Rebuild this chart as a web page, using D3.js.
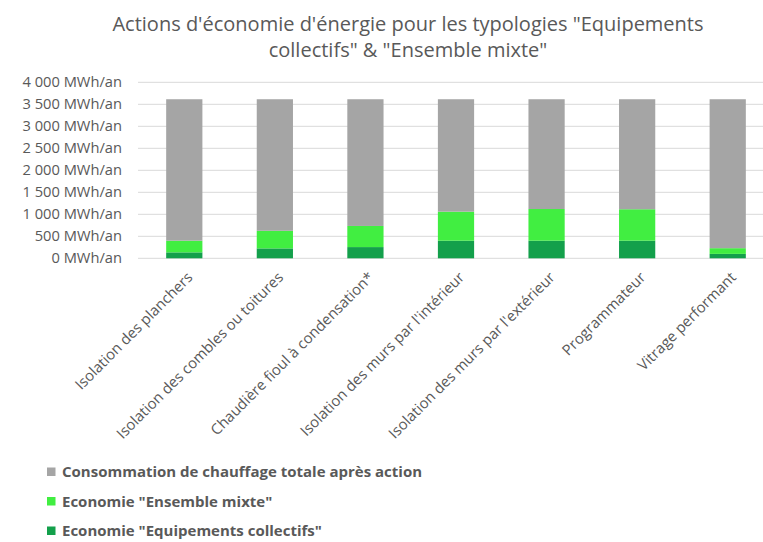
<!DOCTYPE html>
<html>
<head>
<meta charset="utf-8">
<script src="https://cdn.jsdelivr.net/npm/d3@7"></script>
<style>
  body { margin: 0; background: #ffffff; }
  text { font-family: "Open Sans", sans-serif; fill: #595959; }
</style>
</head>
<body>
<svg id="chart"></svg>
<script>
const width = 763, height = 542

const categories = [
    "Isolation des planchers",
    "Isolation des combles ou toitures",
    "Chaudière fioul à condensation*",
    "Isolation des murs par l'intérieur",
    "Isolation des murs par l'extérieur",
    "Programmateur",
    "Vitrage performant"
]
const ecoEquipements = [135, 225, 255, 400, 400, 400, 100]
const ecoMixte = [265, 400, 480, 660, 720, 715, 130]
const consoApres = [3215, 2990, 2880, 2555, 2495, 2500, 3385]
const seriesNames = [
    "Economie \"Equipements collectifs\"",
    "Economie \"Ensemble mixte\"",
    "Consommation de chauffage totale après action"
]
const yTicks = [0, 500, 1000, 1500, 2000, 2500, 3000, 3500, 4000]
const colors = ["#13a04b", "#41ee41", "#a5a5a5"]

const svg = d3.select("svg#chart")
    .attr("width", width)
    .attr("height", height)
    .attr("viewBox", [0, 0, width, height])
    .style("background", "#ffffff")

// title
const title = svg.append("text")
    .attr("text-anchor", "middle")
    .style("font-size", "20px")
title.append("tspan").attr("x", 408).attr("y", 31)
    .text("Actions d'économie d'énergie pour les typologies \"Equipements")
title.append("tspan").attr("x", 408).attr("y", 57)
    .text("collectifs\" & \"Ensemble mixte\"")

const x = d3.scaleBand()
    .domain(categories)
    .range([139, 773])
    .paddingInner(0.6)
    .paddingOuter(0.3)

const y = d3.scaleLinear()
    .domain([0, 4000])
    .range([258.3, 82.3])

const fmt = v => d3.format(",")(v).replace(/,/g, " ") + " MWh/an"

// gridlines
svg.append("g")
    .selectAll("line")
    .data(yTicks)
    .enter()
    .append("line")
    .attr("x1", 138)
    .attr("x2", width)
    .attr("y1", d => y(d))
    .attr("y2", d => y(d))
    .attr("stroke", "#d9d9d9")
    .attr("stroke-width", 1)

// y labels
svg.append("g")
    .selectAll("text")
    .data(yTicks)
    .enter()
    .append("text")
    .attr("x", 122)
    .attr("y", d => y(d))
    .attr("dy", "0.35em")
    .attr("text-anchor", "end")
    .style("font-size", "14.7px")
    .text(fmt)

// stacked bars
const table = categories.map((c, i) => ({
    cat: c,
    s0: ecoEquipements[i],
    s1: ecoMixte[i],
    s2: consoApres[i]
}))
const stacked = d3.stack().keys(["s0", "s1", "s2"])(table)

svg.append("g")
    .selectAll("g")
    .data(stacked)
    .enter()
    .append("g")
    .attr("fill", (d, i) => colors[i])
    .selectAll("rect")
    .data(d => d)
    .enter()
    .append("rect")
    .attr("x", d => x(d.data.cat))
    .attr("width", x.bandwidth())
    .attr("y", d => y(d[1]))
    .attr("height", d => y(d[0]) - y(d[1]))

// category labels
svg.append("g")
    .selectAll("text")
    .data(categories)
    .enter()
    .append("text")
    .attr("text-anchor", "end")
    .attr("transform", d => `translate(${x(d) + x.bandwidth() / 2 + 3}, 272) rotate(-45)`)
    .attr("dy", "0.6em")
    .style("font-size", "14.8px")
    .text(d => d)

// legend
const legendOrder = [2, 1, 0]
const legend = svg.append("g")
    .selectAll("g")
    .data(legendOrder)
    .enter()
    .append("g")

legend.append("rect")
    .attr("x", 47)
    .attr("y", (d, i) => 467.5 + i * 29.5)
    .attr("width", 8.5)
    .attr("height", 8.5)
    .attr("fill", d => colors[d])

legend.append("text")
    .attr("x", 62)
    .attr("y", (d, i) => 472 + i * 29.5)
    .attr("dy", "0.35em")
    .style("font-size", "15px")
    .style("font-weight", "bold")
    .text(d => seriesNames[d])
</script>
</body>
</html>
